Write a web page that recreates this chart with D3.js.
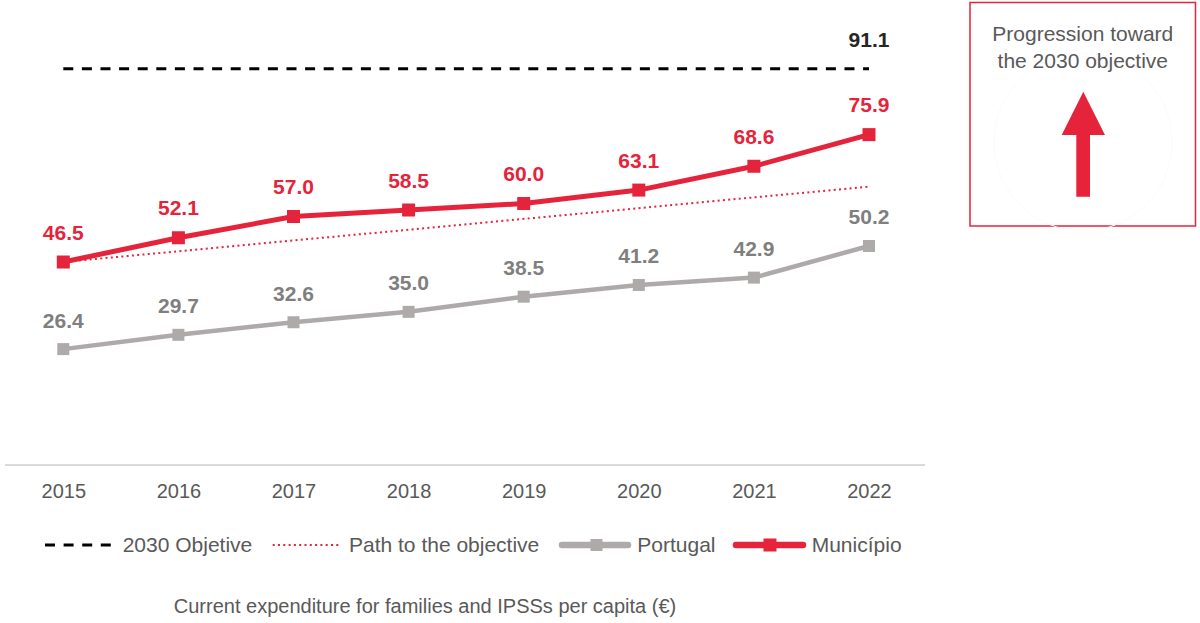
<!DOCTYPE html>
<html>
<head>
<meta charset="utf-8">
<script src="https://cdn.jsdelivr.net/npm/d3@7"></script>
<style>
  html, body { margin: 0; padding: 0; background: #fff; }
  svg { display: block; font-family: "Liberation Sans", Arial, sans-serif; }
</style>
</head>
<body>
<svg id="chart" width="1200" height="623"></svg>
<script>
// ---- Data ----
const years = [2015, 2016, 2017, 2018, 2019, 2020, 2021, 2022];
const municipio = [46.5, 52.1, 57.0, 58.5, 60.0, 63.1, 68.6, 75.9];
const portugal = [26.4, 29.7, 32.6, 35.0, 38.5, 41.2, 42.9, 50.2];
const objective2030 = 91.1;
const pathYears = [2015, 2022];
const pathValues = [46.5, 63.9];
const legendLabels = ["2030 Objetive", "Path to the objective", "Portugal", "Município"];
const chartTitle = "Current expenditure for families and IPSSs per capita (€)";
const boxText = ["Progression toward", "the 2030 objective"];

// ---- Styles ----
const RED = "#E5243B";
const GRAY = "#AEAAAA";
const GRAY_LABEL = "#7F7F7F";
const TEXT = "#595959";

const svg = d3.select("#chart");
const x = d3.scalePoint().domain(years).range([63.3, 869]);
const y = d3.scaleLinear().domain([0, 100]).range([463.5, 30.2]);
const fmt = d3.format(".1f");

// baseline
svg.append("line")
  .attr("x1", 5).attr("x2", 925).attr("y1", 465).attr("y2", 465)
  .attr("stroke", "#D9D9D9").attr("stroke-width", 2);

// x axis
const xAxis = svg.append("g")
  .attr("transform", "translate(0,465)")
  .call(d3.axisBottom(x).tickSize(0).tickPadding(19));
xAxis.select(".domain").remove();
xAxis.selectAll("text")
  .attr("font-family", "Liberation Sans, Arial, sans-serif")
  .attr("font-size", 20).attr("fill", TEXT);

// objective dashed line
svg.append("line")
  .attr("x1", x(years[0])).attr("x2", x(years[years.length - 1]))
  .attr("y1", y(objective2030)).attr("y2", y(objective2030))
  .attr("stroke", "#000").attr("stroke-width", 3)
  .attr("stroke-dasharray", "10,8.6");
svg.append("text")
  .attr("x", x(years[years.length - 1])).attr("y", y(objective2030) - 22)
  .attr("text-anchor", "middle").attr("font-size", 21).attr("font-weight", "bold")
  .attr("fill", "#262626").text(fmt(objective2030));

// path to objective (dotted)
const line = d3.line().x(d => x(d[0])).y(d => y(d[1]));
svg.append("path")
  .datum(pathYears.map((yr, i) => [yr, pathValues[i]]))
  .attr("d", line).attr("fill", "none")
  .attr("stroke", RED).attr("stroke-width", 2)
  .attr("stroke-dasharray", "2,3.3");

function drawSeries(values, color, width, markerSize, labelColor, labelOffset) {
  const pts = years.map((yr, i) => [yr, values[i]]);
  svg.append("path").datum(pts).attr("d", line)
    .attr("fill", "none").attr("stroke", color).attr("stroke-width", width)
    .attr("stroke-linejoin", "round");
  svg.append("g").selectAll("rect").data(pts).join("rect")
    .attr("x", d => x(d[0]) - markerSize / 2).attr("y", d => y(d[1]) - markerSize / 2)
    .attr("width", markerSize).attr("height", markerSize).attr("fill", color);
  svg.append("g").selectAll("text").data(pts).join("text")
    .attr("x", d => x(d[0])).attr("y", d => y(d[1]) - labelOffset)
    .attr("text-anchor", "middle").attr("font-size", 21).attr("font-weight", "bold")
    .attr("fill", labelColor).text(d => fmt(d[1]));
}
drawSeries(portugal, GRAY, 4.5, 12, GRAY_LABEL, 21.5);
drawSeries(municipio, RED, 5, 13, RED, 22.5);

// legend
const lg = svg.append("g");
const ly = 545, lty = 552.3;
lg.append("line").attr("x1", 45).attr("x2", 113).attr("y1", ly).attr("y2", ly)
  .attr("stroke", "#000").attr("stroke-width", 3).attr("stroke-dasharray", "10,8.6");
lg.append("text").attr("x", 122.7).attr("y", lty).attr("font-size", 21).attr("fill", TEXT).text(legendLabels[0]);
lg.append("line").attr("x1", 272.7).attr("x2", 340).attr("y1", ly).attr("y2", ly)
  .attr("stroke", RED).attr("stroke-width", 2).attr("stroke-dasharray", "2,3.3");
lg.append("text").attr("x", 349).attr("y", lty).attr("font-size", 21).attr("fill", TEXT).text(legendLabels[1]);
lg.append("line").attr("x1", 562).attr("x2", 628).attr("y1", ly).attr("y2", ly)
  .attr("stroke", GRAY).attr("stroke-width", 6.5).attr("stroke-linecap", "round");
lg.append("rect").attr("x", 590.5).attr("y", ly - 6).attr("width", 12).attr("height", 12).attr("fill", GRAY);
lg.append("text").attr("x", 637.3).attr("y", lty).attr("font-size", 21).attr("fill", TEXT).text(legendLabels[2]);
lg.append("line").attr("x1", 736).attr("x2", 803).attr("y1", ly).attr("y2", ly)
  .attr("stroke", RED).attr("stroke-width", 6.5).attr("stroke-linecap", "round");
lg.append("rect").attr("x", 763.5).attr("y", ly - 6.5).attr("width", 13).attr("height", 13).attr("fill", RED);
lg.append("text").attr("x", 811.7).attr("y", lty).attr("font-size", 21).attr("fill", TEXT).text(legendLabels[3]);

// title
svg.append("text").attr("x", 425).attr("y", 613.3).attr("text-anchor", "middle")
  .attr("font-size", 20).attr("fill", TEXT).text(chartTitle);

// progression box
const box = svg.append("g");
box.append("rect").attr("x", 970).attr("y", 2.5).attr("width", 225.5).attr("height", 223.5)
  .attr("fill", "#fff").attr("stroke", RED).attr("stroke-width", 1.5);
box.append("circle").attr("cx", 1083).attr("cy", 142).attr("r", 89)
  .attr("fill", "none").attr("stroke", "#FBFBFB").attr("stroke-width", 1);
box.selectAll("text.bt").data(boxText).join("text").attr("class", "bt")
  .attr("x", 1082.8).attr("y", (d, i) => 40.7 + i * 27.6)
  .attr("text-anchor", "middle").attr("font-size", 21).attr("fill", TEXT).text(d => d);
box.append("path")
  .attr("d", "M1083.3,91.7 L1105,135 L1090,135 L1090,196.7 L1076.3,196.7 L1076.3,135 L1061.7,135 Z")
  .attr("fill", RED);
</script>
</body>
</html>
